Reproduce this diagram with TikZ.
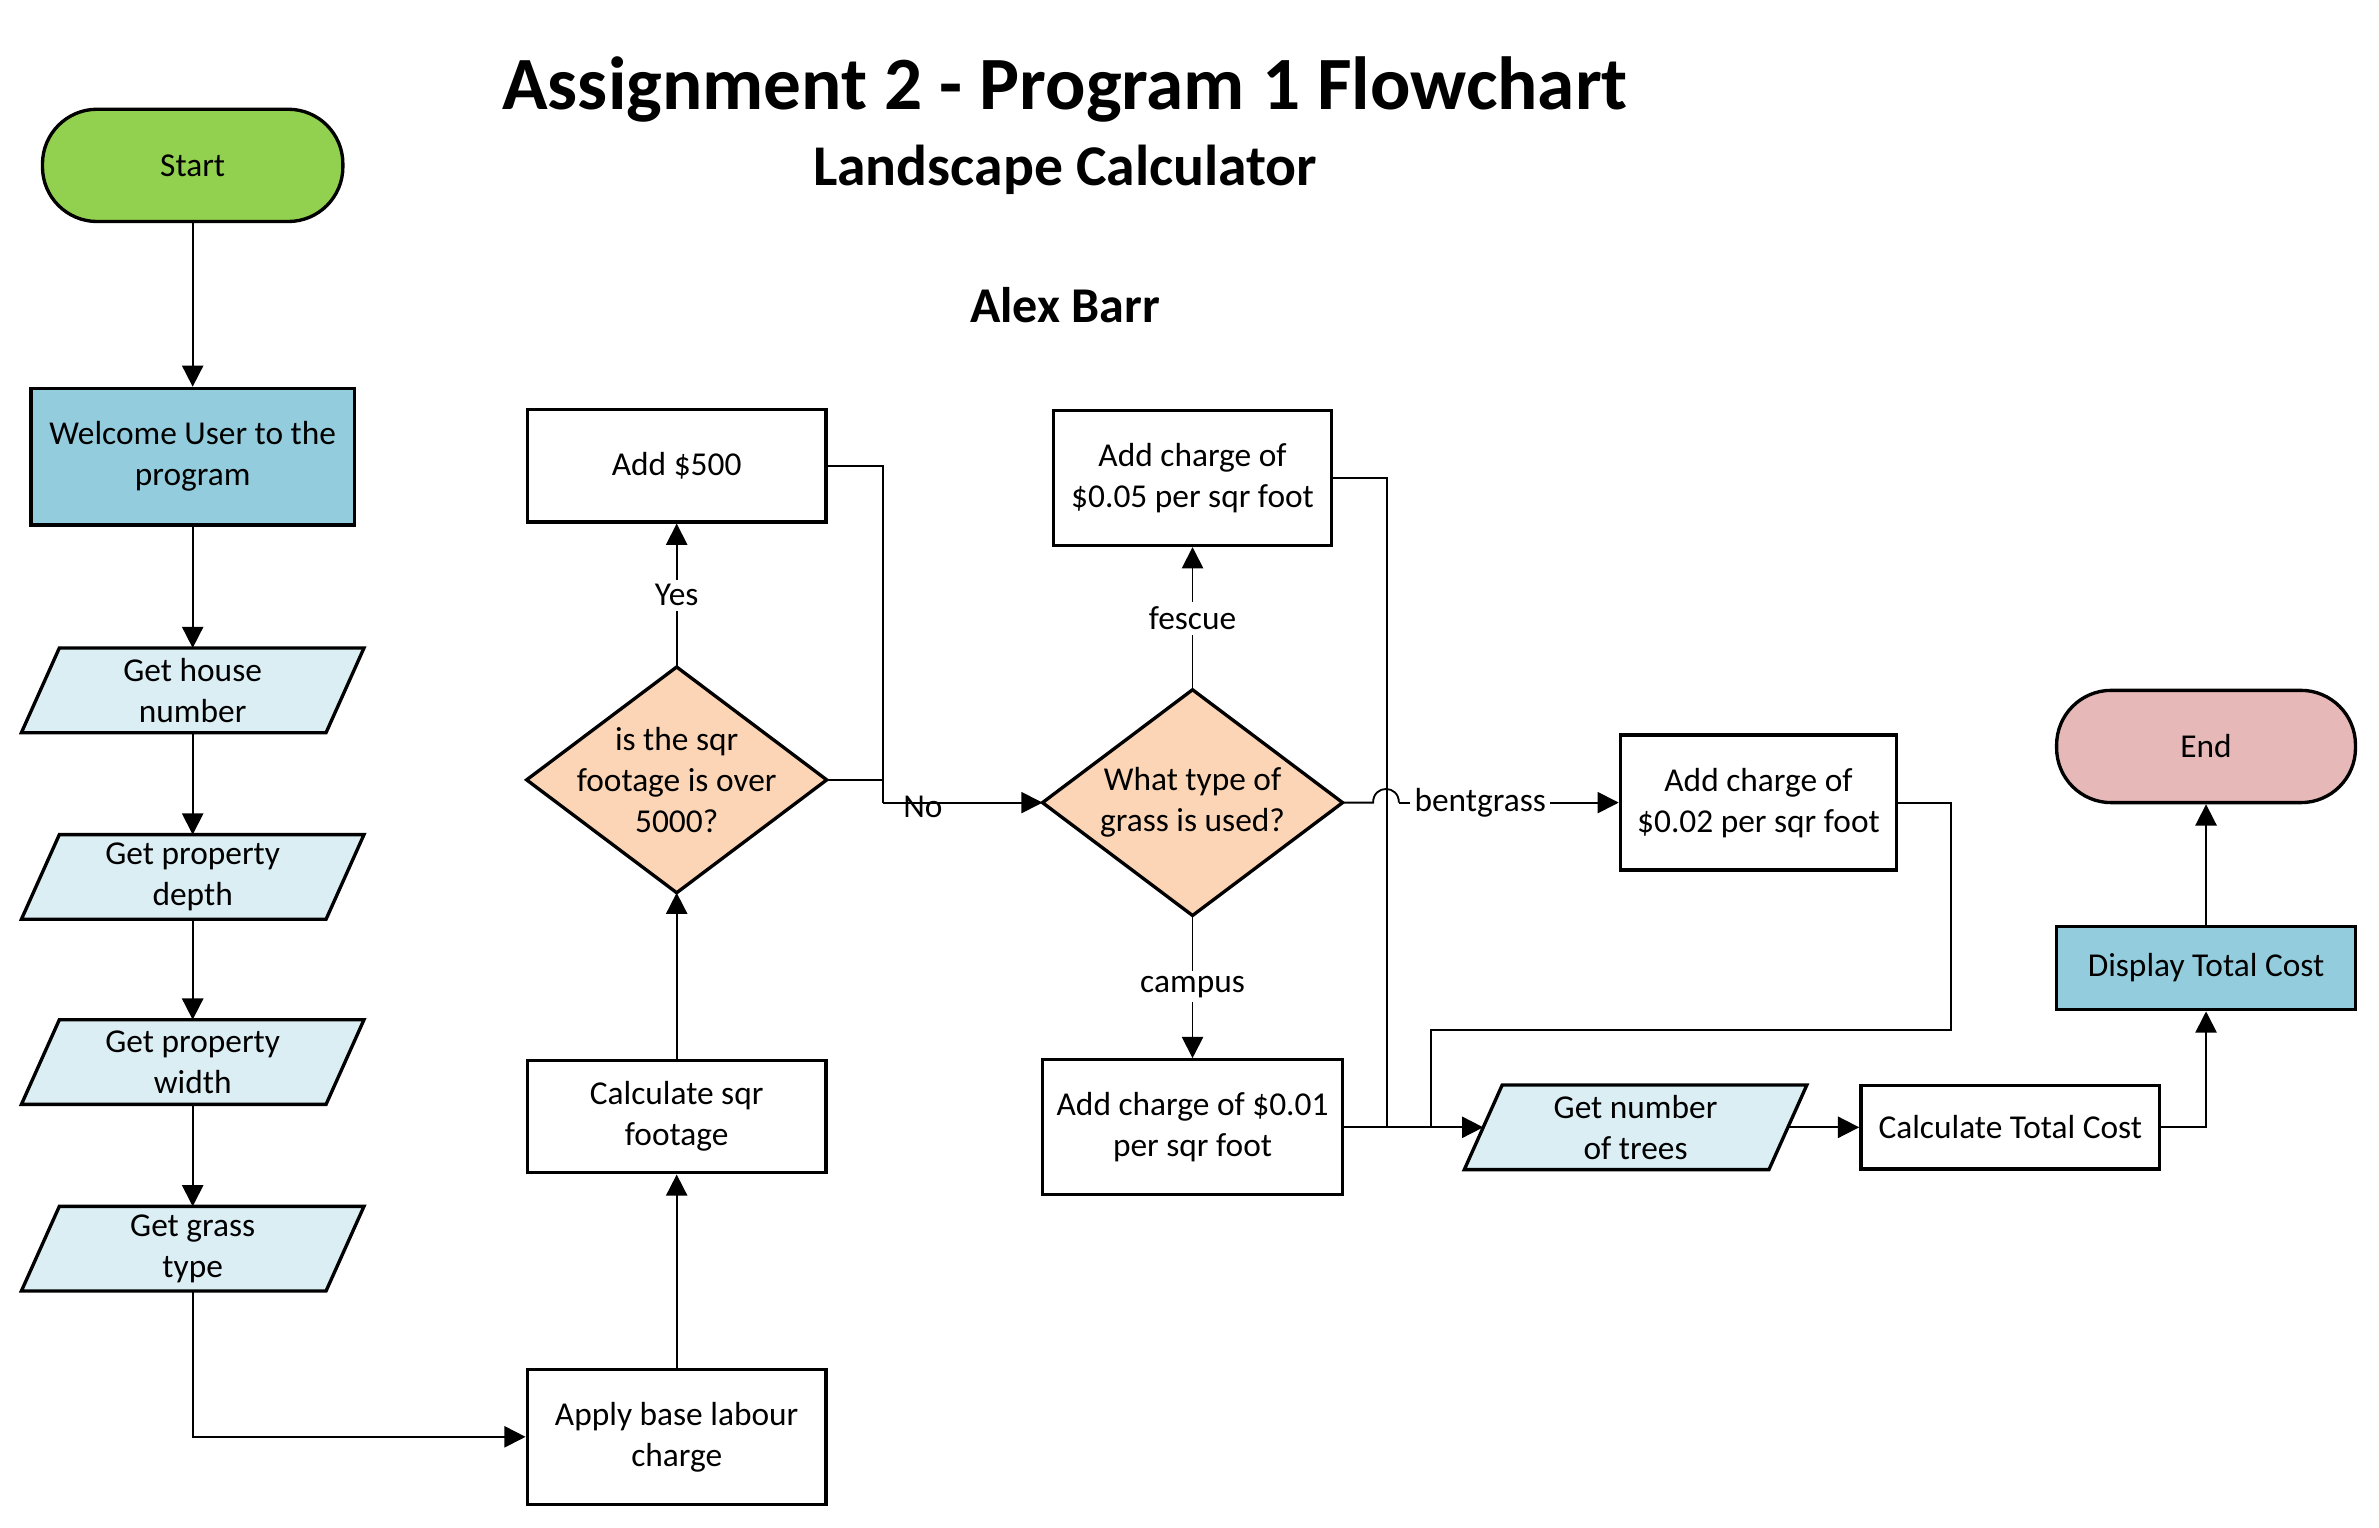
\documentclass[tikz,border=0pt]{standalone}
\usepackage{fontspec}
\setmainfont{Carlito}
\usetikzlibrary{arrows.meta,calc,backgrounds}
\definecolor{cgreen}{HTML}{92D050}
\definecolor{cblue}{HTML}{93CDDD}
\definecolor{clight}{HTML}{DBEEF4}
\definecolor{cpeach}{HTML}{FBD5B5}
\definecolor{cpink}{HTML}{E6B9B8}
\newcommand{\mypara}[1]{\draw[shp,fill=clight] ($(#1.north west)+(25,0)$) -- (#1.north east) -- ($(#1.south east)+(-25,0)$) -- (#1.south west) -- cycle;}
\newcommand{\mydiam}[1]{\draw[shp,fill=cpeach] (#1.north) -- (#1.east) -- (#1.south) -- (#1.west) -- cycle;}
\begin{document}
\begin{tikzpicture}[x=0.5pt,y=-0.5pt,
  every node/.style={font=\fontsize{11}{13.5}\selectfont, align=center},
  shp/.style={draw=black, line width=1.1pt},
  box/.style={shp, rectangle, inner sep=0pt},
  term/.style={shp, rectangle, rounded corners=18pt, inner sep=0pt},
  ghost/.style={rectangle, inner sep=0pt},
  conn/.style={line width=0.6pt, -{Triangle[length=7pt,width=7pt]}},
  plain/.style={line width=0.6pt},
  lbl/.style={fill=white, inner sep=1.5pt},
]
\useasboundingbox (0,0) rectangle (1568,1007);

% titles
\node[font=\bfseries\fontsize{24.8}{28}\selectfont] (title) at (702,59) {Assignment 2 - Program 1 Flowchart};
\node[font=\bfseries\fontsize{19}{22}\selectfont] (sub) at (702,112) {Landscape Calculator};
\node[font=\bfseries\fontsize{16.5}{20}\selectfont] (author) at (702,201) {Alex Barr};

% left column
\node[term, fill=cgreen, minimum width=99pt, minimum height=37pt] (start) at (127,109) {Start};
\node[box, fill=cblue, minimum width=106.5pt, minimum height=45pt] (welcome) at (127,301) {Welcome User to the\\program};
\node[ghost, minimum width=112.5pt, minimum height=27.5pt] (house) at (127,455) {Get house\\number};
\node[ghost, minimum width=112.5pt, minimum height=27.5pt] (depth) at (127,578) {Get property\\depth};
\node[ghost, minimum width=112.5pt, minimum height=27.5pt] (width) at (127,700) {Get property\\width};
\node[ghost, minimum width=112.5pt, minimum height=27.5pt] (grass) at (127,823) {Get grass\\type};

% second column
\node[box, minimum width=98.5pt, minimum height=44.5pt] (apply) at (446,947) {Apply base labour\\charge};
\node[box, minimum width=98.5pt, minimum height=37pt] (calc) at (446,736) {Calculate sqr\\footage};
\node[ghost, minimum width=98.5pt, minimum height=74pt] (d1) at (446,514) {is the sqr\\footage is over\\5000?};
\node[box, minimum width=98.5pt, minimum height=37pt] (add500) at (446,307) {Add \$500};

% third column
\node[ghost, minimum width=98.5pt, minimum height=74pt] (d2) at (786,529) {What type of\\grass is used?};
\node[box, minimum width=91.5pt, minimum height=44.5pt] (a05) at (786,315) {Add charge of\\\$0.05 per sqr foot};
\node[box, minimum width=99pt, minimum height=44.5pt] (a01) at (786,743) {Add charge of \$0.01\\per sqr foot};
\node[box, minimum width=91pt, minimum height=44.5pt] (a02) at (1159,529) {Add charge of\\\$0.02 per sqr foot};

% right part
\node[ghost, minimum width=112.5pt, minimum height=27.5pt] (trees) at (1078,743) {Get number\\of trees};
\node[box, minimum width=98.5pt, minimum height=27.5pt] (calcT) at (1325,743) {Calculate Total Cost};
\node[box, fill=cblue, minimum width=98.5pt, minimum height=27.5pt] (display) at (1454,638) {Display Total Cost};
\node[term, fill=cpink, minimum width=98.5pt, minimum height=37pt] (endn) at (1454,492) {End};

\begin{scope}[on background layer]
  \mypara{house}
  \mypara{depth}
  \mypara{width}
  \mypara{grass}
  \mypara{trees}
  \mydiam{d1}
  \mydiam{d2}
\end{scope}

% connectors
\draw[conn] (start.south) -- (welcome.north);
\draw[conn] (welcome.south) -- (house.north);
\draw[conn] (house.south) -- (depth.north);
\draw[conn] (depth.south) -- (width.north);
\draw[conn] (width.south) -- (grass.north);
\draw[conn] (grass.south) |- (apply.west);
\draw[conn] (apply.north) -- (calc.south);
\draw[conn] (calc.north) -- (d1.south);
\draw[conn] (d1.north) -- node[lbl] {Yes} (add500.south);

\coordinate (j1) at (582,529);
\draw[plain] (add500.east) -| (j1);
\draw[plain] (d1.east) -| (j1);
\draw[conn] (j1) -- node[pos=0.25, inner sep=0pt, yshift=-1.5pt] (no) {No} (d2.west);

\draw[conn] (d2.north) -- node[lbl] {fescue} (a05.south);
\draw[conn] (d2.south) -- node[lbl] {campus} (a01.north);

\coordinate (h1) at (905,529);
\coordinate (h2) at (922,529);
\draw[plain] (d2.east) -- (h1) .. controls (905,517) and (922,517) .. (h2);
\draw[conn] (h2) -- node[lbl, pos=0.37] {bentgrass} (a02.west);

\coordinate (j2) at (914,743);
\draw[plain] (a05.east) -| (j2);
\draw[conn] (a01.east) -- ($(trees.west)+(12.5,0)$);

\coordinate (b1) at (1286,679);
\coordinate (j3) at (943,743);
\draw[plain] (a02.east) -| (b1) -| (j3);

\draw[conn] ($(trees.east)+(-12.5,0)$) -- (calcT.west);
\draw[conn] (calcT.east) -| (display.south);
\draw[conn] (display.north) -- (endn.south);
\end{tikzpicture}
\end{document}
